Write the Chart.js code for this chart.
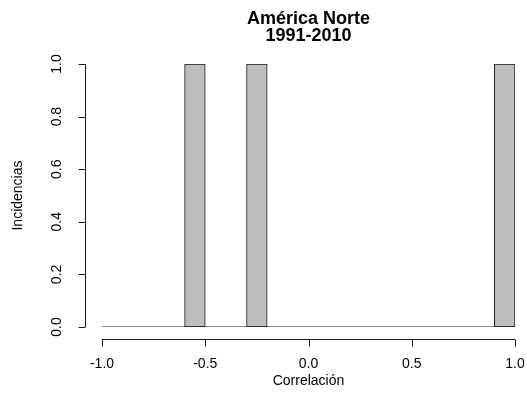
<!DOCTYPE html>
<html>
<head>
<meta charset="utf-8">
<script src="https://cdn.jsdelivr.net/npm/chart.js@4.4.0/dist/chart.umd.min.js"></script>
<style>
  html, body { margin: 0; padding: 0; background: #fff; }
</style>
</head>
<body>
<canvas id="histChart" width="527" height="399"></canvas>
<script>
// Histogram bins (edges) and counts per bin
const binEdges = [-1.0, -0.9, -0.8, -0.7, -0.6, -0.5, -0.4, -0.3, -0.2, -0.1, 0.0,
                  0.1, 0.2, 0.3, 0.4, 0.5, 0.6, 0.7, 0.8, 0.9, 1.0];
const counts = [0, 0, 0, 0, 1, 0, 0, 1, 0, 0, 0, 0, 0, 0, 0, 0, 0, 0, 0, 1];
const xTicks = [-1.0, -0.5, 0.0, 0.5, 1.0];
const yTicks = [0.0, 0.2, 0.4, 0.6, 0.8, 1.0];
const titleLines = ['América Norte', '1991-2010'];
const xLabel = 'Correlación';
const yLabel = 'Incidencias';

const FONT = 'Liberation Sans, Arial, sans-serif';
const INK = '#1a1a1a';

// R-style axes: detached from the plot region, outward ticks
const rAxes = {
    id: 'rAxes',
    afterDraw(chart) {
        const { ctx, chartArea, scales: { x, y } } = chart;
        const ay = Math.round(chartArea.bottom + 12) + 0.5;
        const ax = Math.round(chartArea.left - 17) + 0.5;
        ctx.save();
        ctx.strokeStyle = INK;
        ctx.lineWidth = 1;
        ctx.beginPath();
        // x axis
        ctx.moveTo(x.getPixelForValue(xTicks[0]), ay);
        ctx.lineTo(x.getPixelForValue(xTicks[xTicks.length - 1]), ay);
        xTicks.forEach(v => {
            const px = Math.round(x.getPixelForValue(v)) + 0.5;
            ctx.moveTo(px, ay);
            ctx.lineTo(px, ay + 7);
        });
        // y axis
        ctx.moveTo(ax, y.getPixelForValue(yTicks[0]));
        ctx.lineTo(ax, y.getPixelForValue(yTicks[yTicks.length - 1]));
        yTicks.forEach(v => {
            const py = Math.round(y.getPixelForValue(v)) + 0.5;
            ctx.moveTo(ax, py);
            ctx.lineTo(ax - 7, py);
        });
        ctx.stroke();
        ctx.restore();
    }
};

const barData = counts.map((c, i) => ({ x: (binEdges[i] + binEdges[i + 1]) / 2, y: c }));

new Chart(document.getElementById('histChart'), {
    type: 'bar',
    data: {
        datasets: [
            {
                type: 'bar',
                data: barData,
                backgroundColor: '#bebebe',
                borderColor: INK,
                borderWidth: 1,
                borderSkipped: false,
                categoryPercentage: 1,
                barPercentage: 1,
                order: 2
            },
            {
                // baseline drawn by the empty bins
                type: 'line',
                data: [{ x: binEdges[0], y: 0 }, { x: binEdges[binEdges.length - 1], y: 0 }],
                borderColor: INK,
                borderWidth: 1,
                pointRadius: 0,
                order: 1
            }
        ]
    },
    options: {
        responsive: false,
        animation: false,
        layout: { padding: { left: 0, right: 12, top: 0, bottom: 0 } },
        plugins: {
            legend: { display: false },
            tooltip: { enabled: false },
            title: {
                display: true,
                text: titleLines,
                fullSize: false,
                color: '#000',
                font: { family: FONT, size: 18, weight: 'bold', lineHeight: 0.95 },
                padding: { top: 10, bottom: 19.8 }
            }
        },
        scales: {
            x: {
                type: 'linear',
                min: -1,
                max: 1,
                offset: false,
                grid: { display: false, drawTicks: false },
                border: { display: false },
                afterBuildTicks: s => { s.ticks = xTicks.map(v => ({ value: v })); },
                afterFit: s => {
                    s.height = 72;
                    s.paddingLeft = 0;
                    s.paddingRight = 0;
                },
                ticks: {
                    color: '#000',
                    font: { family: FONT, size: 14 },
                    padding: 29,
                    maxRotation: 0,
                    callback: v => v.toFixed(1)
                },
                title: {
                    display: true,
                    text: xLabel,
                    color: '#000',
                    font: { family: FONT, size: 14 },
                    padding: { top: 0, bottom: 9 }
                }
            },
            y: {
                min: 0,
                max: 1,
                grid: { display: false, drawTicks: false },
                border: { display: false },
                afterBuildTicks: s => { s.ticks = yTicks.map(v => ({ value: v })); },
                afterFit: s => { s.width = 102; },
                ticks: {
                    color: '#000',
                    font: { family: FONT, size: 14 },
                    minRotation: 90,
                    maxRotation: 90,
                    crossAlign: 'center',
                    padding: 35,
                    callback: v => v.toFixed(1)
                },
                title: {
                    display: true,
                    text: yLabel,
                    color: '#000',
                    font: { family: FONT, size: 14 },
                    padding: { top: 10, bottom: 0 }
                }
            }
        }
    },
    plugins: [rAxes]
});
</script>
</body>
</html>
